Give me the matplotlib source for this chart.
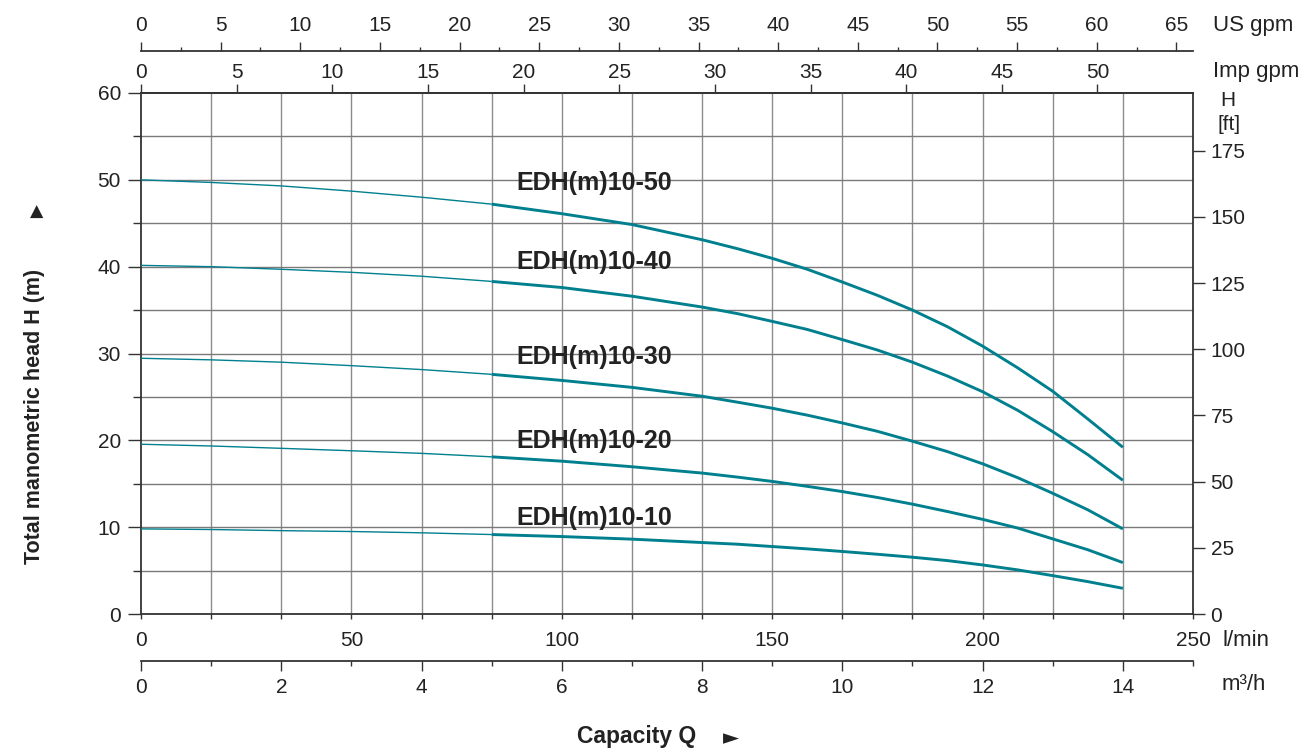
import matplotlib
matplotlib.use("Agg")
import matplotlib.pyplot as plt

plt.rcParams['font.family'] = ['Liberation Sans', 'DejaVu Sans']

# ---- data ----
q_m3h = [0, 1, 2, 3, 4, 5, 6, 7, 8, 8.5, 9, 9.5, 10, 10.5, 11, 11.5, 12, 12.5, 13, 13.5, 14]
h_10_50 = [50.0, 49.7, 49.3, 48.7, 48.0, 47.2, 46.1, 44.85, 43.1, 42.08, 40.96, 39.7, 38.23,
           36.7, 35.0, 33.08, 30.85, 28.35, 25.65, 22.46, 19.2]
h_10_40 = [40.15, 40.0, 39.7, 39.35, 38.9, 38.3, 37.6, 36.6, 35.35, 34.6, 33.7, 32.77, 31.6,
           30.4, 29.0, 27.4, 25.6, 23.46, 21.0, 18.35, 15.4]
h_10_30 = [29.45, 29.27, 29.0, 28.6, 28.15, 27.6, 26.9, 26.1, 25.08, 24.4, 23.7, 22.9, 22.0,
           21.04, 19.9, 18.7, 17.3, 15.7, 13.9, 12.0, 9.8]
h_10_20 = [19.55, 19.35, 19.08, 18.8, 18.5, 18.1, 17.6, 16.96, 16.23, 15.77, 15.27, 14.7, 14.1,
           13.42, 12.65, 11.8, 10.9, 9.9, 8.65, 7.4, 5.92]
h_10_10 = [9.8, 9.73, 9.6, 9.5, 9.35, 9.15, 8.92, 8.62, 8.23, 8.04, 7.77, 7.5, 7.2,
           6.88, 6.54, 6.15, 5.65, 5.08, 4.42, 3.73, 2.96]
series_names = ["EDH(m)10-50", "EDH(m)10-40", "EDH(m)10-30", "EDH(m)10-20", "EDH(m)10-10"]
label_y = [49.6, 40.5, 29.6, 19.95, 11.1]

lmin_ticks = [0, 50, 100, 150, 200, 250]
m_ticks = [0, 10, 20, 30, 40, 50, 60]
ft_ticks = [0, 25, 50, 75, 100, 125, 150, 175]
usgpm_ticks = list(range(0, 70, 5))
impgpm_ticks = list(range(0, 55, 5))
m3h_ticks = [0, 2, 4, 6, 8, 10, 12, 14]

W, H = 1309, 749
fig = plt.figure(figsize=(W / 100, H / 100), dpi=100)
ax = fig.add_axes([141 / W, (H - 614) / H, (1193 - 141) / W, (614 - 93) / H])

TXT = '#222222'
SP = '#333333'
CURVE = '#00808f'
FS = 15

x_lmin = [q * 1000 / 60 for q in q_m3h]

# grid
for k in range(1, 15):
    ax.axvline(k * 1000 / 60, color='#8c8c8c', lw=1.0, zorder=1)
for yv in range(5, 60, 5):
    ax.axhline(yv, color='#7a7a7a', lw=1.0, zorder=1)

ax.set_xlim(0, 250)
ax.set_ylim(0, 60)

for h in [h_10_50, h_10_40, h_10_30, h_10_20, h_10_10]:
    ax.plot(x_lmin[:6], h[:6], color=CURVE, lw=1.0, solid_capstyle='butt', zorder=3)
    ax.plot(x_lmin[5:], h[5:], color=CURVE, lw=2.1, solid_capstyle='butt',
            solid_joinstyle='round', zorder=3)

for name, yl in zip(series_names, label_y):
    ax.text(89.1, yl, name, fontsize=18, fontweight='bold', color=TXT,
            ha='left', va='center', zorder=4)

for s in ax.spines.values():
    s.set_color(SP)
    s.set_linewidth(1.3)

ax.set_xticks(lmin_ticks)
ax.set_xticks([k * 1000 / 60 for k in range(1, 16)], minor=True)
ax.tick_params(axis='x', which='both', direction='out', length=3.6, width=1.0,
               color=SP, labelsize=FS, labelcolor=TXT, pad=9)
ax.set_yticks(m_ticks)
ax.set_yticks([5, 15, 25, 35, 45, 55], minor=True)
ax.tick_params(axis='y', which='major', direction='out', length=9.4, width=1.0,
               color=SP, labelsize=FS, labelcolor=TXT, pad=5)
ax.tick_params(axis='y', which='minor', direction='out', length=5.8, width=1.0, color=SP)

# right ft axis
ax2 = ax.twinx()
ax2.set_ylim(0, 60 / 0.3048)
ax2.set_yticks(ft_ticks)
ax2.tick_params(axis='y', direction='out', length=8.6, width=1.0, color=SP,
                labelsize=FS, labelcolor=TXT, pad=4)
for s in ax2.spines.values():
    s.set_visible(False)

# US gpm axis
us = ax.secondary_xaxis((614 - 51) / 521, functions=(lambda x: x / 3.78541, lambda x: x * 3.78541))
us.set_xticks(usgpm_ticks)
us.set_xticks([v + 2.5 for v in usgpm_ticks], minor=True)
us.tick_params(which='major', length=6.5, width=1.0, color=SP, labelsize=FS, labelcolor=TXT, pad=5)
us.tick_params(which='minor', length=2.9, width=1.0, color=SP)
us.spines['top'].set_color(SP)
us.spines['top'].set_linewidth(1.3)

# Imp gpm axis
imp = ax.secondary_xaxis(1.0, functions=(lambda x: x / 4.54609, lambda x: x * 4.54609))
imp.set_xticks(impgpm_ticks)
imp.tick_params(which='major', length=6.5, width=1.0, color=SP, labelsize=FS, labelcolor=TXT, pad=1.5)
imp.spines['top'].set_color(SP)
imp.spines['top'].set_linewidth(1.3)

# m3/h axis
m3 = ax.secondary_xaxis((614 - 661) / 521, functions=(lambda x: x * 0.06, lambda x: x / 0.06))
m3.set_xticks(m3h_ticks)
m3.set_xticks([1, 3, 5, 7, 9, 11, 13, 15], minor=True)
m3.tick_params(which='major', length=7.2, width=1.0, color=SP, labelsize=FS, labelcolor=TXT, pad=5)
m3.tick_params(which='minor', length=3.6, width=1.0, color=SP)
m3.spines['bottom'].set_color(SP)
m3.spines['bottom'].set_linewidth(1.3)

def ftext(x, y, s, **kw):
    fig.text(x / W, 1 - y / H, s, color=TXT, **kw)

ftext(1213, 25, "US gpm", fontsize=16, ha='left', va='center')
ftext(1213, 72, "Imp gpm", fontsize=16, ha='left', va='center')
ftext(1228, 100, "H", fontsize=15, ha='center', va='center')
ftext(1229, 125, "[ft]", fontsize=15, ha='center', va='center')
ftext(1222, 640, "l/min", fontsize=16, ha='left', va='center')
ftext(1222, 685, "m³/h", fontsize=16, ha='left', va='center')

ftext(35, 416, "Total manometric head H (m)", fontsize=15.5, fontweight='bold',
      rotation=90, ha='center', va='center')
ftext(37, 212, "▲", fontsize=12.5, ha='center', va='center', family=['DejaVu Sans'])
ftext(637, 737, "Capacity Q", fontsize=16.5, fontweight='bold', ha='center', va='center')
ftext(731, 738, "►", fontsize=15, ha='center', va='center', family=['DejaVu Sans'])

fig.savefig("out.png", dpi=100)
